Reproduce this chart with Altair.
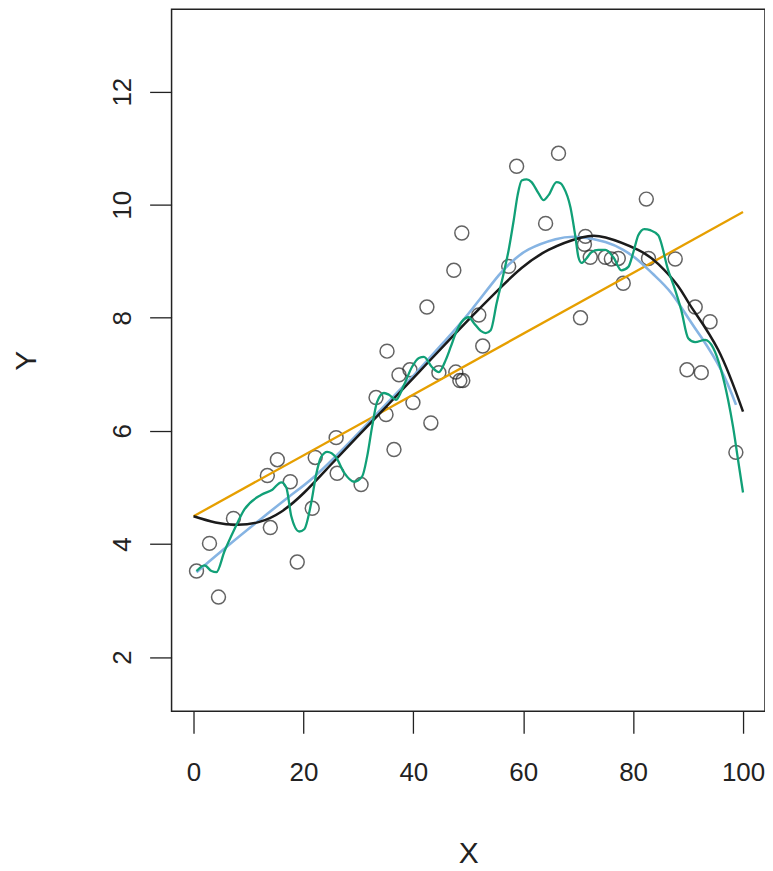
import altair as alt
import pandas as pd

# Observed points
pt_x = [0.54, 2.90, 4.54, 7.26, 13.43, 13.97, 15.25, 17.60, 18.87, 21.60,
        22.14, 25.95, 26.13, 30.49, 33.21, 35.03, 35.21, 36.48, 37.39, 39.38,
        39.93, 42.47, 43.19, 44.65, 47.37, 47.73, 48.46, 49.00, 48.82, 51.91,
        52.63, 57.35, 58.80, 64.07, 66.42, 70.42, 71.32, 71.14, 72.20, 74.95,
        76.04, 77.30, 78.20, 82.40, 82.80, 87.66, 91.30, 94.00, 89.80, 92.40,
        98.70]
pt_y = [3.52, 4.01, 3.06, 4.45, 5.21, 4.29, 5.49, 5.10, 3.68, 4.63,
        5.53, 5.88, 5.25, 5.05, 6.59, 6.29, 7.41, 5.67, 6.99, 7.08,
        6.50, 8.19, 6.14, 7.03, 8.84, 7.04, 6.89, 6.89, 9.50, 8.05,
        7.50, 8.91, 10.68, 9.67, 10.91, 8.00, 9.44, 9.30, 9.07, 9.07,
        9.04, 9.05, 8.61, 10.10, 9.05, 9.04, 8.19, 7.93, 7.08, 7.03,
        5.62]

# Linear fit (orange)
lm_x = [0, 100]
lm_y = [4.49, 9.87]

# Polynomial fit (black)
poly_x = [0, 3.99, 7.99, 11.98, 15.97, 20.15, 24.68, 30.13, 35.57, 41.02,
          46.46, 51.0, 55.5, 59.7, 64.6, 70.6, 75.0, 80.9, 84.6, 88.2,
          90.6, 95.5, 100]
poly_y = [4.49, 4.38, 4.34, 4.39, 4.57, 4.91, 5.37, 5.93, 6.48, 7.04,
          7.60, 8.06, 8.50, 8.88, 9.20, 9.42, 9.42, 9.20, 8.95, 8.56,
          8.19, 7.43, 6.34]

# Loess fit (light blue)
loess_x = [0.54, 6.53, 11.98, 17.42, 21.96, 27.4, 32.85, 38.29, 41.0, 45.55,
           50.09, 55.53, 58.26, 60.98, 65.88, 70.05, 74.95, 78.2, 80.9, 83.67,
           86.93, 90.0, 92.38, 96.0, 98.73]
loess_y = [3.50, 3.99, 4.42, 4.84, 5.19, 5.70, 6.25, 6.80, 7.08, 7.57,
           8.08, 8.75, 9.02, 9.21, 9.39, 9.43, 9.34, 9.20, 9.02, 8.77,
           8.44, 8.00, 7.66, 7.08, 6.46]

# Smoothing spline (green)
spl_x = [0.54, 2.0, 3.27, 4.17, 5.63, 7.44, 9.26, 12.34, 14.34, 15.97,
         16.88, 17.79, 19.24, 20.15, 21.42, 22.32, 23.23, 24.32, 25.95, 27.4,
         29.22, 30.67, 31.58, 32.49, 33.39, 34.66, 35.57, 36.84, 38.29, 39.75,
         41.02, 41.92, 43.38, 44.65, 45.92, 46.82, 47.73, 48.82, 50.09, 51.0,
         52.27, 53.18, 54.08, 55.17, 56.44, 57.35, 58.26, 58.98, 59.71, 60.62,
         61.52, 62.79, 63.7, 64.61, 66.06, 66.79, 67.33, 68.6, 69.5, 70.05,
         70.6, 71.5, 72.41, 73.68, 74.95, 76.41, 77.86, 79.13, 80.04, 80.94,
         82.03, 83.12, 84.57, 86.39, 87.66, 88.75, 90.02, 91.29, 93.1, 94.56,
         96.0, 97.28, 98.19, 99.09, 100]
spl_y = [3.52, 3.62, 3.52, 3.50, 3.87, 4.26, 4.61, 4.87, 4.96, 5.09,
         5.00, 4.49, 4.22, 4.26, 4.73, 5.23, 5.54, 5.63, 5.53, 5.26,
         5.10, 5.19, 5.54, 6.07, 6.51, 6.67, 6.64, 6.55, 6.81, 7.13,
         7.29, 7.31, 7.13, 7.04, 7.26, 7.49, 7.73, 7.93, 8.01, 7.91,
         7.77, 7.73, 7.78, 8.26, 8.79, 9.20, 9.72, 10.17, 10.43, 10.45,
         10.40, 10.20, 10.08, 10.17, 10.40, 10.38, 10.31, 9.95, 9.43, 9.07,
         8.97, 9.05, 9.16, 9.20, 9.20, 9.07, 8.84, 8.90, 9.16, 9.46,
         9.57, 9.55, 9.46, 8.84, 8.49, 8.14, 7.64, 7.57, 7.61, 7.47,
         7.08, 6.55, 6.07, 5.49, 4.91]

x_ticks = [0, 20, 40, 60, 80, 100]
y_ticks = [2, 4, 6, 8, 10, 12]

FONT = "Liberation Sans"
xs = alt.Scale(domain=[-4, 104], nice=False, zero=False)
ys = alt.Scale(domain=[1.04, 13.46], nice=False, zero=False)

x_axis = alt.Axis(values=x_ticks, title="X", grid=False, domain=False,
                  tickSize=22, tickWidth=1.3, tickColor="#222",
                  labelFontSize=26, labelFont=FONT, labelColor="#222",
                  labelPadding=26, labelFlush=False, labelOverlap=False,
                  titleFontSize=30, titleFont=FONT, titleFontWeight="normal",
                  titleColor="#222", titlePadding=54)
y_axis = alt.Axis(values=y_ticks, title="Y", grid=False, domain=False,
                  tickSize=22, tickWidth=1.3, tickColor="#222",
                  labelFontSize=26, labelFont=FONT, labelColor="#222",
                  labelAngle=-90, labelAlign="center", labelBaseline="bottom",
                  labelPadding=14, labelFlush=False, labelOverlap=False,
                  titleFontSize=30, titleFont=FONT, titleFontWeight="normal",
                  titleColor="#222", titlePadding=68)

pts = pd.DataFrame({"x": pt_x, "y": pt_y})
points = alt.Chart(pts).mark_point(
    shape="circle", filled=False, color="#222", size=195, strokeWidth=1.5
).encode(
    x=alt.X("x:Q", scale=xs, axis=x_axis),
    y=alt.Y("y:Q", scale=ys, axis=y_axis),
)


def line(xv, yv, color, width, interp):
    df = pd.DataFrame({"x": xv, "y": yv})
    return alt.Chart(df).mark_line(
        color=color, strokeWidth=width, interpolate=interp, clip=True
    ).encode(
        x=alt.X("x:Q", scale=xs, axis=x_axis),
        y=alt.Y("y:Q", scale=ys, axis=y_axis),
        order="x:Q",
    )


chart = alt.layer(
    points,
    line(lm_x, lm_y, "#E69F00", 2.3, "linear"),
    line(loess_x, loess_y, "#86B4E3", 2.6, "natural"),
    line(poly_x, poly_y, "#1b1b1b", 2.5, "natural"),
    line(spl_x, spl_y, "#11A077", 2.3, "monotone"),
).properties(
    width=595, height=704,
    background="white",
    autosize=alt.AutoSizeParams(type="none"),
    padding={"left": 164, "top": 0, "right": 0, "bottom": 158},
).configure_view(
    stroke="#222", strokeWidth=1.5
)

chart.save("out.html", embed_options={"renderer": "svg", "actions": False})
